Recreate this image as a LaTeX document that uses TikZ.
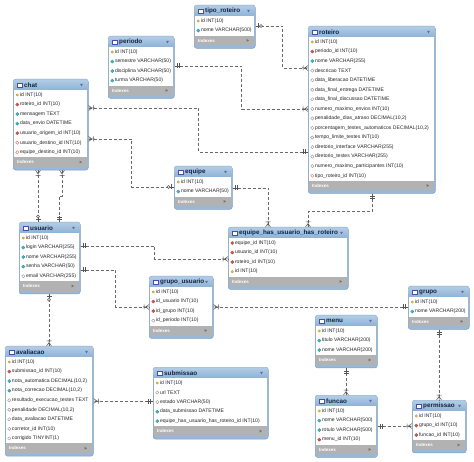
\documentclass[tikz,border=0pt]{standalone}
\usepackage{fontspec}
\setmainfont{Liberation Sans}
\usetikzlibrary{calc,shapes.geometric,decorations.markings}

\definecolor{tabblue}{HTML}{98B8D6}
\definecolor{tabedge}{HTML}{849FBB}
\definecolor{hdtop}{HTML}{B2CDE7}
\definecolor{hdbot}{HTML}{8EB2D5}
\definecolor{idxgray}{HTML}{B2B2B2}
\definecolor{relgray}{HTML}{6A6A6A}
\definecolor{keyyel}{HTML}{F2C12E}
\definecolor{nncyan}{HTML}{3DB7C4}
\definecolor{fkred}{HTML}{D9574A}
\definecolor{titlenavy}{HTML}{14223D}

\tikzset{
  tabbox/.style={draw=tabedge, fill=tabblue, rounded corners=2.5pt, line width=0.5pt, inner sep=0pt},
  tabtitle/.style={font=\fontsize{6.3}{7}\selectfont\bfseries, text=titlenavy, inner sep=0pt, anchor=west},
  rowtxt/.style={font=\fontsize{5.1}{6}\selectfont, text=black!85, inner sep=0pt, anchor=west},
  idxtxt/.style={font=\fontsize{4.5}{5}\selectfont\bfseries, text=white, inner sep=0pt, anchor=west},
  hdicon/.style={draw=blue!50!black!70, fill=white, line width=0.3pt, inner sep=0pt, minimum width=5pt, minimum height=4.5pt},
  ikey/.style={circle, fill=keyyel, draw=keyyel!70!black, line width=0.2pt, inner sep=0pt, minimum size=2.6pt},
  inn/.style={diamond, fill=nncyan, draw=nncyan!70!black, line width=0.2pt, inner sep=0pt, minimum size=3.4pt},
  ifk/.style={diamond, fill=fkred, draw=fkred!70!black, line width=0.2pt, inner sep=0pt, minimum size=3.4pt},
  iopt/.style={diamond, fill=white, draw=gray, line width=0.3pt, inner sep=0pt, minimum size=3.4pt},
  ifko/.style={diamond, fill=white, draw=fkred, line width=0.3pt, inner sep=0pt, minimum size=3.4pt},
  rel/.style={draw=relgray, line width=0.6pt, dash pattern=on 3pt off 2pt},
  symb/.style={solid, draw=relgray!80!black, line width=0.5pt},
  startsym/.style={postaction={decorate, decoration={markings, mark=at position 0 with {#1}}}},
  endsym/.style={postaction={decorate, decoration={markings, mark=at position 1 with {#1}}}}
}

\newcommand{\crowsym}[1]{\draw[symb, xscale=#1] (0,-2.5) -- (3.5,0) -- (0,2.5) (0,0) -- (6,0) (5,-2.5) -- (5,2.5);}
\newcommand{\onesym}[1]{\draw[symb, xscale=#1] (0,0) -- (6,0) (3,-2.5) -- (3,2.5) (5,-2.5) -- (5,2.5);}
\newcommand{\zosym}[1]{\draw[symb, xscale=#1] (0,0) -- (4,0) (2.5,-2.5) -- (2.5,2.5); \draw[symb, fill=white, xscale=#1] (5.5,0) circle (1.5);}

\newcommand{\ertable}[7]{%
  \node[tabbox, minimum width=#4pt, minimum height={24pt+#5*9.55pt}, anchor=north west] (#1) at (#2,#3) {};
  \shade[top color=hdtop, bottom color=hdbot, rounded corners=2.5pt] ($(#1.north west)+(0.4,0.4)$) rectangle ($(#1.north east)+(-0.4,11)$);
  \fill[white] ($(#1.north west)+(1.2,11)$) rectangle ($(#1.north east)+(-1.2,{11.5+#5*9.55})$);
  \fill[idxgray] ($(#1.north west)+(1.2,{11.5+#5*9.55})$) rectangle ($(#1.north east)+(-1.2,{21+#5*9.55})$);
  \node[hdicon] (#1-icon) at ($(#1.north west)+(6.5,6)$) {};
  \node[tabtitle] (#1-title) at ($(#1.north west)+(11,6)$) {#6};
  \fill[blue!40!black!60] ($(#1.north east)+(-8.5,4.8)$) -- ++(3,0) -- ++(-1.5,2.5) -- cycle;
  \foreach \ic/\tx [count=\i] in {#7} {
    \node[\ic] (#1-i\i) at ($(#1.north west)+(4.3,{16+(\i-1)*9.55})$) {};
    \node[rowtxt] (#1-\i) at ($(#1.north west)+(6.8,{16+(\i-1)*9.55})$) {\tx};
  }
  \node[idxtxt] (#1-idx) at ($(#1.north west)+(4,{16.3+#5*9.55})$) {Indexes};
  \fill[black!55] ($(#1.north east)+(-9,{14.8+#5*9.55})$) -- ++(0,3) -- ++(2.5,-1.5) -- cycle;
}

\begin{document}
\begin{tikzpicture}[x=1pt,y=-1pt]
  \useasboundingbox (0,0) rectangle (474,462);

  \ertable{tipo}{194}{5}{61}{2}{tipo\_roteiro}{ikey/{id INT(10)}, inn/{nome VARCHAR(500)}}
  \ertable{periodo}{108}{36}{66}{4}{periodo}{ikey/{id INT(10)}, inn/{semestre VARCHAR(50)}, inn/{disciplina VARCHAR(50)}, inn/{turma VARCHAR(50)}}
  \ertable{chat}{13}{79}{75}{7}{chat}{ikey/{id INT(10)}, ifk/{roteiro\_id INT(10)}, inn/{mensagem TEXT}, inn/{data\_envio DATETIME}, ifk/{usuario\_origem\_id INT(10)}, ifko/{usuario\_destino\_id INT(10)}, ifko/{equipe\_destino\_id INT(10)}}
  \ertable{roteiro}{308}{26}{127}{15}{roteiro}{ikey/{id INT(10)}, ifk/{periodo\_id INT(10)}, inn/{nome VARCHAR(255)}, iopt/{descricao TEXT}, iopt/{data\_liberacao DATETIME}, iopt/{data\_final\_entrega DATETIME}, iopt/{data\_final\_discussao DATETIME}, iopt/{numero\_maximo\_envios INT(10)}, iopt/{penalidade\_dias\_atraso DECIMAL(10,2)}, iopt/{porcentagem\_testes\_automaticos DECIMAL(10,2)}, iopt/{tempo\_limite\_testes INT(10)}, iopt/{diretorio\_interface VARCHAR(255)}, iopt/{diretorio\_testes VARCHAR(255)}, iopt/{numero\_maximo\_participantes INT(10)}, ifko/{tipo\_roteiro\_id INT(10)}}
  \ertable{equipe}{174}{166}{58}{2}{equipe}{ikey/{id INT(10)}, inn/{nome VARCHAR(50)}}
  \ertable{usuario}{19}{222}{61}{5}{usuario}{ikey/{id INT(10)}, inn/{login VARCHAR(255)}, inn/{nome VARCHAR(255)}, inn/{senha VARCHAR(50)}, iopt/{email VARCHAR(255)}}
  \ertable{ehur}{228}{227}{120}{4}{equipe\_has\_usuario\_has\_roteiro}{ifk/{equipe\_id INT(10)}, ifk/{usuario\_id INT(10)}, ifk/{roteiro\_id INT(10)}, ikey/{id INT(10)}}
  \ertable{grupous}{149}{276}{64}{4}{grupo\_usuario}{ikey/{id INT(10)}, ifk/{id\_usuario INT(10)}, ifk/{id\_grupo INT(10)}, iopt/{id\_periodo INT(10)}}
  \ertable{grupo}{408}{286}{61}{2}{grupo}{ikey/{id INT(10)}, inn/{nome VARCHAR(200)}}
  \ertable{menu}{315}{315}{62}{3}{menu}{ikey/{id INT(10)}, inn/{titulo VARCHAR(200)}, inn/{nome VARCHAR(200)}}
  \ertable{funcao}{315}{395}{62}{4}{funcao}{ikey/{id INT(10)}, inn/{nome VARCHAR(500)}, inn/{rotulo VARCHAR(500)}, ifk/{menu\_id INT(10)}}
  \ertable{permissao}{412}{400}{54}{3}{permissao}{ikey/{id INT(10)}, ifk/{grupo\_id INT(10)}, ifk/{funcao\_id INT(10)}}
  \ertable{avaliacao}{5}{346}{88}{9}{avaliacao}{ikey/{id INT(10)}, ifk/{submissao\_id INT(10)}, inn/{nota\_automatica DECIMAL(10,2)}, inn/{nota\_correcao DECIMAL(10,2)}, iopt/{resultado\_execucao\_testes TEXT}, iopt/{penalidade DECIMAL(10,2)}, iopt/{data\_avaliacao DATETIME}, iopt/{corretor\_id INT(10)}, iopt/{corrigido TINYINT(1)}}
  \ertable{submissao}{153}{367}{115}{5}{submissao}{ikey/{id INT(10)}, iopt/{url TEXT}, iopt/{estado VARCHAR(50)}, inn/{data\_submissao DATETIME}, inn/{equipe\_has\_usuario\_has\_roteiro\_id INT(10)}}

  \draw[rel, startsym={\zosym{1}}, endsym={\crowsym{-1}}] ($(tipo.north east)+(0,21)$) -- ++(27,0) |- ($(roteiro.north west)+(0,42)$);
  \draw[rel, startsym={\onesym{1}}, endsym={\crowsym{-1}}] ($(periodo.north east)+(0,30)$) -- ++(67,0) |- ($(roteiro.north west)+(0,83)$);
  \draw[rel, startsym={\crowsym{1}}, endsym={\onesym{-1}}] ($(chat.north east)+(0,29)$) -- ++(110,0) |- ($(roteiro.north west)+(0,126)$);
  \draw[rel, startsym={\crowsym{1}}, endsym={\zosym{-1}}] ($(chat.north east)+(0,60)$) -- ++(43,0) |- ($(equipe.north west)+(0,21)$);
  \draw[rel, startsym={\crowsym{1}}, endsym={\zosym{-1}}] ($(chat.south west)+(25,0)$) -- ($(usuario.north west)+(19,0)$);
  \draw[rel, startsym={\crowsym{1}}, endsym={\onesym{-1}}] ($(chat.south west)+(49,0)$) -- ++(0,26) -| ($(usuario.north west)+(40,0)$);
  \draw[rel, startsym={\onesym{1}}, endsym={\crowsym{-1}}] ($(equipe.north east)+(0,22)$) -| ($(ehur.north west)+(40,0)$);
  \draw[rel, startsym={\onesym{1}}, endsym={\crowsym{-1}}] ($(roteiro.south west)+(64,0)$) -- ++(0,18) -| ($(ehur.north west)+(80,0)$);
  \draw[rel, startsym={\onesym{1}}, endsym={\crowsym{-1}}] ($(usuario.north east)+(0,24)$) -- ++(74,0) |- ($(ehur.north west)+(0,32)$);
  \draw[rel, startsym={\onesym{1}}, endsym={\crowsym{-1}}] ($(usuario.north east)+(0,48)$) -- ++(35,0) |- ($(grupous.north west)+(0,31)$);
  \draw[rel, startsym={\onesym{1}}, endsym={\crowsym{-1}}] ($(grupo.north west)+(0,21)$) -- ($(grupous.north east)+(0,31)$);
  \draw[rel, startsym={\zosym{1}}, endsym={\crowsym{-1}}] ($(usuario.south west)+(30,0)$) -- ($(avaliacao.north west)+(44,0)$);
  \draw[rel, startsym={\onesym{1}}, endsym={\crowsym{-1}}] ($(submissao.north west)+(0,34)$) -- ($(avaliacao.north east)+(0,55)$);
  \draw[rel, startsym={\onesym{1}}, endsym={\crowsym{-1}}] ($(menu.south west)+(31,0)$) -- ($(funcao.north west)+(31,0)$);
  \draw[rel, startsym={\onesym{1}}, endsym={\crowsym{-1}}] ($(funcao.north east)+(0,31)$) -- ($(permissao.north west)+(0,26)$);
  \draw[rel, startsym={\onesym{1}}, endsym={\crowsym{-1}}] ($(grupo.south west)+(31,0)$) -- ($(permissao.north west)+(27,0)$);
\end{tikzpicture}
\end{document}
